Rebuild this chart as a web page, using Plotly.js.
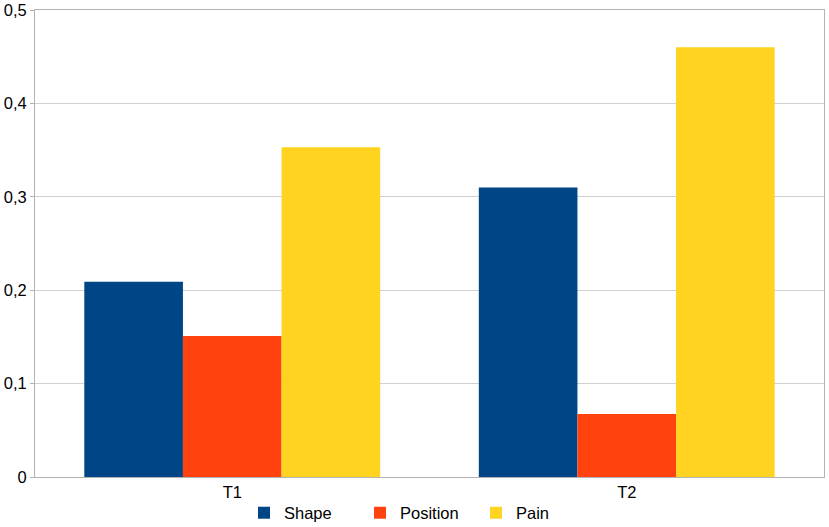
<!DOCTYPE html>
<html>
<head>
<meta charset="utf-8">
<script src="https://cdn.plot.ly/plotly-3.0.1.min.js"></script>
<style>html,body{margin:0;padding:0;background:#fff;}#chart{width:829px;height:527px;}</style>
</head>
<body>
<div id="chart"></div>
<script>
const categories = ["T1", "T2"];
const seriesNames = ["Shape", "Position", "Pain"];
const shapeValues = [0.209, 0.310];
const positionValues = [0.151, 0.0675];
const painValues = [0.353, 0.460];
const yTickValues = [0, 0.1, 0.2, 0.3, 0.4, 0.5];
const yTickLabels = ["0", "0,1", "0,2", "0,3", "0,4", "0,5"];
const colors = ["#004586", "#ff420e", "#ffd320"];

const allValues = [shapeValues, positionValues, painValues];
const traces = seriesNames.map((name, i) => ({
  type: "bar",
  name: name,
  x: categories,
  y: allValues[i],
  marker: {color: colors[i], line: {width: 0}},
  hoverinfo: "none"
}));

const layout = {
  width: 829,
  height: 527,
  margin: {l: 35, r: 5, t: 9.5, b: 49.5, autoexpand: false},
  paper_bgcolor: "#ffffff",
  plot_bgcolor: "#ffffff",
  font: {family: "Liberation Sans, Arial, sans-serif", size: 16.5, color: "#000000"},
  barmode: "group",
  bargap: 0.25,
  bargroupgap: 0,
  separators: ", ",
  xaxis: {
    type: "category",
    showline: true,
    linecolor: "#b3b3b3",
    linewidth: 1,
    mirror: true,
    ticks: "",
    showgrid: false,
    tickfont: {size: 16.5, color: "#000"},
    fixedrange: true
  },
  yaxis: {
    range: [0, 0.5],
    tickvals: yTickValues,
    ticktext: yTickLabels,
    showline: true,
    linecolor: "#b3b3b3",
    linewidth: 1,
    mirror: true,
    ticks: "outside",
    ticklen: 4,
    tickcolor: "#b3b3b3",
    showgrid: true,
    gridcolor: "#d0d0d0",
    gridwidth: 1,
    zeroline: false,
    tickfont: {size: 16.5, color: "#000"},
    fixedrange: true
  },
  showlegend: true,
  legend: {
    orientation: "h",
    xref: "container",
    yref: "container",
    x: 244 / 829,
    xanchor: "left",
    y: 14 / 527,
    yanchor: "middle",
    bgcolor: "rgba(0,0,0,0)",
    font: {size: 16.5, color: "#000"},
    entrywidth: 71,
    entrywidthmode: "pixels",
    tracegroupgap: 0
  }
};

Plotly.newPlot("chart", traces, layout, {displayModeBar: false, staticPlot: true});
</script>
</body>
</html>
